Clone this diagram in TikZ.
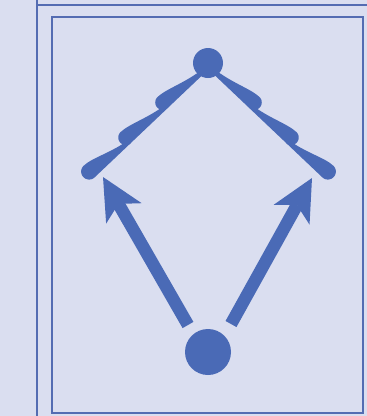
\documentclass[tikz,border=0pt]{standalone}
\usetikzlibrary{arrows.meta}
\definecolor{fg}{RGB}{74,106,182}
\definecolor{bg}{RGB}{218,222,240}
\definecolor{frame}{RGB}{84,108,178}
\tikzset{
  blob/.style={circle,fill=fg,draw=none,inner sep=0pt,minimum size=#1},
  bigarrow/.style={draw=fg,line width=12.5pt,-{Stealth[length=42pt,width=41pt,inset=11pt,line width=0pt]}},
  frameline/.style={draw=frame,line width=2.2pt},
  leftcord/.style={shift={(206,71)},x={(-0.7253pt,-0.6882pt)},y={(-0.6882pt,0.7253pt)}},
  rightcord/.style={shift={(211,71)},x={(0.7253pt,-0.6882pt)},y={(0.6882pt,0.7253pt)}}
}
% one tapered segment: start t0, blob centre t1, radius r
\newcommand{\taper}[3]{%
  \fill[fg] (#1,-0.5) -- (#1,3.5)
    .. controls (#2-30,5.5) and (#2-12,2*#3-0.5) .. (#2,2*#3-0.5)
    -- plot[domain=90:-90,samples=25] ({#2+#3*cos(\x)},{#3-0.5+#3*sin(\x)})
    -- cycle;}
\begin{document}
\begin{tikzpicture}[x=1pt,y=-1pt]
\fill[bg] (0,0) rectangle (367,416);
\useasboundingbox (0,0) rectangle (367,416);
% frames
\draw[frameline] (37,0) -- (37,416);
\draw[frameline] (37,5) -- (367,5);
\draw[frameline] (52,17) rectangle (363,413);
% cords
\begin{scope}[leftcord]
  \taper{0}{53}{7.5}
  \taper{53}{104}{7.5}
  \taper{104}{154}{8}
\end{scope}
\begin{scope}[rightcord]
  \taper{0}{53}{7.5}
  \taper{53}{104}{7.5}
  \taper{104}{154}{8}
\end{scope}
% dots
\node[blob=30pt] (top) at (208,63) {};
\node[blob=46pt] (bottom) at (208,352) {};
% arrows
\coordinate (tl) at (188,325);
\coordinate (hl) at (103,177);
\coordinate (tr) at (231,324);
\coordinate (hr) at (312,178);
\draw[bigarrow] (tl) -- (hl);
\draw[bigarrow] (tr) -- (hr);
\end{tikzpicture}
\end{document}
